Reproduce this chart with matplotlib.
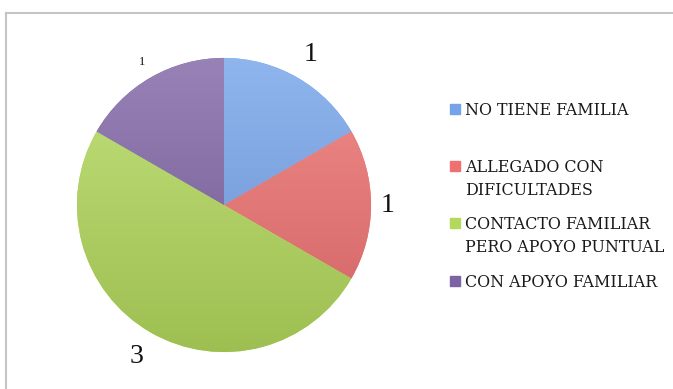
import numpy as np
import matplotlib.pyplot as plt
from matplotlib.colors import to_rgb
from matplotlib.lines import Line2D
from matplotlib.patches import Rectangle

categorias = ["NO TIENE FAMILIA", "ALLEGADO CON\nDIFICULTADES",
              "CONTACTO FAMILIAR\nPERO APOYO PUNTUAL", "CON APOYO FAMILIAR"]
valores = [1, 1, 3, 1]
colores = ["#74a3ea", "#ee7070", "#b3d95c", "#7e63a4"]
tam_etiqueta = [20, 20, 20, 9]

W, H = 673, 389
fig = plt.figure(figsize=(W / 100, H / 100), dpi=100)
plt.rcParams['font.family'] = ['Liberation Serif', 'DejaVu Serif']

# pie centre / radius in pixels
cx, cy, r = 224, 184, 150
ax = fig.add_axes([(cx - r) / W, (cy - r) / H, 2 * r / W, 2 * r / H])
wedges, _ = ax.pie(valores, colors=colores, startangle=90, counterclock=False,
                   radius=1, wedgeprops=dict(linewidth=0))
ax.set_xlim(-1.02, 1.02)
ax.set_ylim(-1.02, 1.02)
ax.set_aspect('equal')
ax.axis('off')

# soft vertical shading inside each slice
yy = np.linspace(1, -1, 200)[:, None] * np.ones((1, 2))
for w, c in zip(wedges, colores):
    base = np.array(to_rgb(c))
    top = base + (1 - base) * 0.2
    bot = base * 0.88
    t = (yy + 1) / 2
    img = bot[None, None, :] * (1 - t[..., None]) + top[None, None, :] * t[..., None]
    im = ax.imshow(img, extent=[-1, 1, -1, 1], origin='upper', zorder=2)
    im.set_clip_path(w)

# value labels outside the slices
dist = [1.18, 1.11, 1.19, 1.12]
for w, v, fs, d in zip(wedges, valores, tam_etiqueta, dist):
    ang = np.deg2rad((w.theta1 + w.theta2) / 2)
    ax.text(d * np.cos(ang), d * np.sin(ang), str(v), fontsize=fs,
            ha='center', va='center', color='#111111')

# legend, one text per line so the line gap is exact
filas = [109, 166, 223, 281]
for nombre, c, y in zip(categorias, colores, filas):
    fig.add_artist(Rectangle((450 / W, 1 - (y + 5) / H), 10 / W, 10 / H,
                             transform=fig.transFigure, color=c))
    for i, linea in enumerate(nombre.split("\n")):
        fig.text(465 / W, 1 - (y + 6 + 23 * i) / H, linea, fontsize=11.4,
                 va='baseline', ha='left', color='#1a1a1a',
                 family=['DejaVu Serif'])

# chart frame
fig.add_artist(Line2D([6 / W, 6 / W], [0, 1 - 13 / H], color='#c4c4c4', lw=1.5))
fig.add_artist(Line2D([6 / W, 1], [1 - 13 / H, 1 - 13 / H], color='#c4c4c4', lw=1.5))

fig.savefig("out.png", dpi=100)
